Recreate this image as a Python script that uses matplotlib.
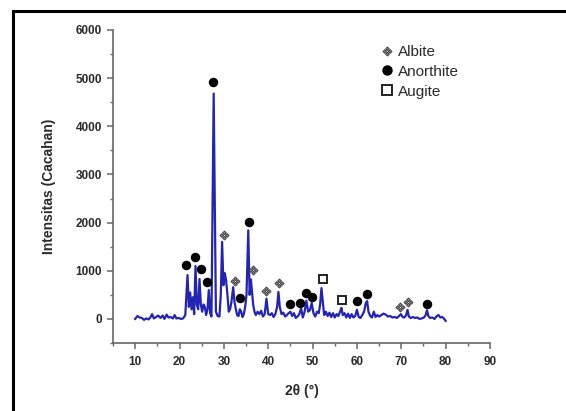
import matplotlib
matplotlib.use("Agg")
import matplotlib.pyplot as plt
from matplotlib.path import Path
from matplotlib.patches import Rectangle
from matplotlib.lines import Line2D
from matplotlib.ticker import MultipleLocator

plt.rcParams['font.family'] = ['Liberation Sans', 'DejaVu Sans']

# ---- data ----
two_theta = [10.0, 10.5, 11.0, 11.5, 12.0, 12.5, 13.0, 13.5, 13.8, 14.2, 14.7, 15.2, 15.7, 16.2, 16.6,
             17.1, 17.5, 18.0, 18.5, 18.9, 19.3, 19.8, 20.3, 20.8, 21.3, 21.8, 22.1, 22.4, 22.7, 23.0,
             23.3, 23.6, 23.9, 24.2, 24.5, 24.8, 25.1, 25.4, 25.7, 26.0, 26.3, 26.6, 26.9, 27.2, 27.7,
             28.2, 28.6, 29.0, 29.3, 29.6, 29.9, 30.2, 30.5, 30.8, 31.1, 31.4, 31.7, 32.1, 32.4, 32.7,
             33.0, 33.3, 33.6, 33.9, 34.2, 34.5, 34.8, 35.1, 35.5, 35.8, 36.1, 36.3, 36.6, 36.9, 37.2,
             37.6, 38.0, 38.4, 38.8, 39.2, 39.6, 40.0, 40.4, 40.8, 41.2, 41.6, 42.0, 42.3, 42.6, 43.0,
             43.4, 43.8, 44.2, 44.6, 45.0, 45.4, 45.8, 46.2, 46.6, 47.0, 47.4, 47.8, 48.2, 48.6, 49.0,
             49.4, 49.8, 50.2, 50.6, 51.0, 51.4, 51.7, 52.0, 52.3, 52.6, 53.0, 53.4, 53.8, 54.2, 54.6,
             55.0, 55.4, 55.8, 56.2, 56.5, 56.8, 57.2, 57.6, 58.0, 58.4, 58.8, 59.2, 59.6, 60.0, 60.4,
             60.8, 61.2, 61.6, 62.0, 62.3, 62.6, 63.0, 63.4, 63.8, 64.2, 64.6, 65.0, 65.5, 66.0, 66.5,
             67.0, 67.5, 68.0, 68.5, 69.0, 69.5, 69.9, 70.3, 70.7, 71.1, 71.4, 71.7, 72.1, 72.6, 73.1,
             73.6, 74.1, 74.6, 75.1, 75.5, 75.8, 76.1, 76.5, 77.0, 77.5, 78.0, 78.4, 78.8, 79.2, 79.6,
             80.0]
intensity = [0, 60, 30, 20, -20, 10, -10, 40, 100, 10, 40, 70, 20, 70, 0,
             90, 30, 40, 10, 80, 10, 20, 0, 10, 80, 910, 250, 550, 200, 450,
             100, 1100, 300, 200, 830, 300, 150, 300, 250, 80, 200, 600, 120, 50, 4680,
             150, 60, 50, 500, 1600, 700, 950, 800, 500, 150, 200, 350, 660, 350, 200,
             80, 60, 200, 150, 40, 100, 250, 500, 1840, 500, 820, 600, 300, 150, 80,
             150, 100, 170, 50, 100, 420, 100, 80, 120, 40, 100, 250, 560, 250, 100,
             130, 50, 80, 120, 150, 60, 120, 20, 50, 100, 220, 30, 150, 380, 150,
             180, 330, 120, 50, 150, 120, 300, 640, 350, 80, 150, 60, 130, 40, 120,
             30, 100, 60, 150, 230, 80, 120, 30, 110, 20, 100, 30, 60, 190, 40,
             20, 80, 150, 330, 370, 150, 60, 30, 150, 40, 80, 50, 80, 110, 90,
             50, 60, 30, 40, 20, 60, 100, 40, 30, 80, 190, 50, 20, 40, 20,
             30, 0, 10, 30, 80, 180, 60, 20, 30, 0, 60, 80, 30, 40, 10,
             -40]

anorthite_x = [21.5, 23.5, 24.8, 26.3, 27.6, 33.7, 35.6, 45.0, 47.2, 48.6, 49.9, 60.0, 62.2, 75.9]
anorthite_y = [1125, 1295, 1030, 765, 4925, 430, 2020, 300, 340, 540, 450, 370, 525, 310]
albite_x = [30.0, 32.4, 36.6, 39.5, 42.5, 69.7, 71.6]
albite_y = [1745, 795, 1015, 570, 750, 250, 360]
augite_x = [52.4, 56.6]
augite_y = [820, 395]

x_ticks = [10, 20, 30, 40, 50, 60, 70, 80, 90]
y_ticks = [0, 1000, 2000, 3000, 4000, 5000, 6000]

# ---- custom albite marker: four small diamonds ----
verts, codes = [], []
for cx, cy in [(0, 0.55), (0.55, 0), (0, -0.55), (-0.55, 0)]:
    d = 0.38
    verts += [(cx, cy + d), (cx + d, cy), (cx, cy - d), (cx - d, cy), (cx, cy + d)]
    codes += [Path.MOVETO, Path.LINETO, Path.LINETO, Path.LINETO, Path.CLOSEPOLY]
albite_marker = Path(verts, codes)

fig = plt.figure(figsize=(5.66, 4.11), dpi=100)
ax = fig.add_axes([113 / 566, 1 - 343 / 411, (490 - 113) / 566, (343 - 30) / 411])

line_color = '#2424b4'
ax.plot(two_theta, intensity, color=line_color, lw=1.6, zorder=2)

ax.plot(anorthite_x, anorthite_y, 'o', color='black', ms=5.8, ls='none', zorder=3)
ax.plot(albite_x, albite_y, marker=albite_marker, color='#555555', mfc='#888888', mec='#333333',
        mew=0.6, ms=6.5, ls='none', zorder=3)
ax.plot(augite_x, augite_y, 's', mfc='white', mec='#222222', mew=1.4, ms=6.2, ls='none', zorder=3)

ax.set_xlim(5, 90)
ax.set_ylim(-500, 6000)
ax.set_xticks(x_ticks)
ax.set_yticks(y_ticks)
ax.xaxis.set_minor_locator(MultipleLocator(5))
ax.yaxis.set_minor_locator(MultipleLocator(500))

for s in ['top', 'right']:
    ax.spines[s].set_visible(False)
spine_col = '#666666'
for s in ['left', 'bottom']:
    ax.spines[s].set_color(spine_col)
    ax.spines[s].set_linewidth(1.2)

ax.tick_params(which='major', direction='out', length=4, width=1.1, color=spine_col,
               labelsize=8.5, labelcolor='#2a2a2a')
ax.tick_params(which='minor', direction='out', length=2.5, width=1.0, color=spine_col)
ax.tick_params(axis='x', pad=5)
ax.tick_params(axis='y', pad=4)
for lab in ax.get_xticklabels() + ax.get_yticklabels():
    lab.set_fontweight('bold')

ax.set_ylabel('Intensitas (Cacahan)', fontsize=10, fontweight='bold', color='#2a2a2a', labelpad=14)
ax.set_xlabel('2θ (°)', fontsize=10, fontweight='bold', color='#2a2a2a', labelpad=12)

handles = [
    Line2D([], [], marker=albite_marker, color='#555555', mfc='#888888', mec='#333333', mew=0.6,
           ms=6.5, ls='none'),
    Line2D([], [], marker='o', color='black', ms=6.5, ls='none'),
    Line2D([], [], marker='s', mfc='white', mec='#222222', mew=1.4, ms=6.5, ls='none'),
]
leg = ax.legend(handles, ['Albite', 'Anorthite', 'Augite'], loc='upper left',
                bbox_to_anchor=(382 / 566, 1 - 45 / 411), bbox_transform=fig.transFigure,
                frameon=False, fontsize=11, handlelength=0.7, handletextpad=0.35,
                labelspacing=0.38, borderaxespad=0, borderpad=0)
for t in leg.get_texts():
    t.set_color('#2a2a2a')

# outer black frame (cropped at right and bottom)
fig.add_artist(Rectangle((13 / 566, -0.2), 1.2, 1 - 11 / 411 + 0.2, transform=fig.transFigure,
                         fill=False, edgecolor='black', lw=2.2, clip_on=False))

fig.savefig('out.png', dpi=100, facecolor='white')
